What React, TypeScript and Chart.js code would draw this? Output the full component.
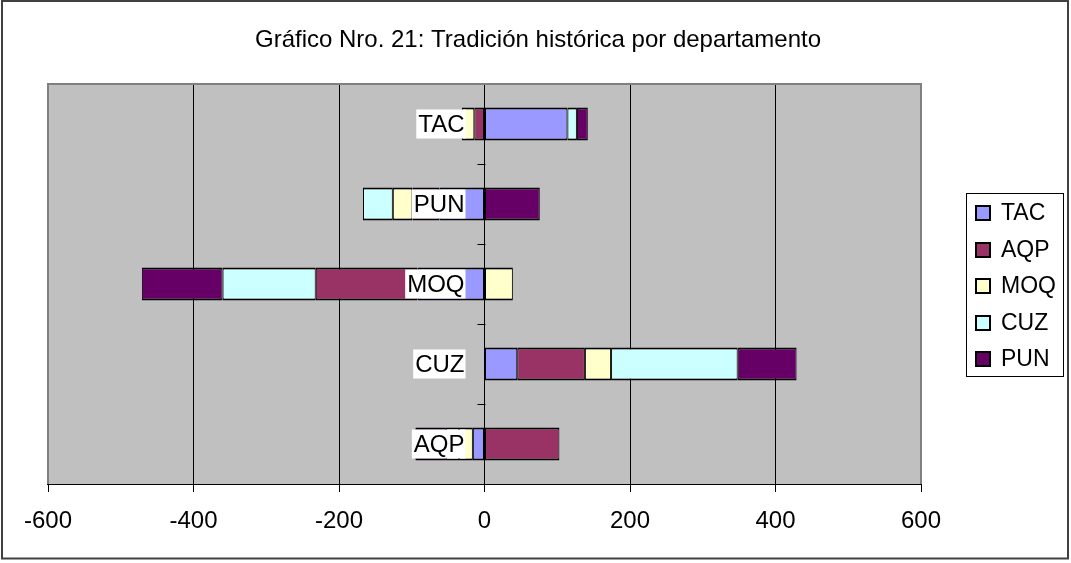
import React, { useEffect, useRef } from 'react';
import { Chart, registerables } from 'chart.js';

Chart.register(...registerables);

const TITLE = 'Gráfico Nro. 21: Tradición histórica por departamento';
const categories = ['TAC', 'PUN', 'MOQ', 'CUZ', 'AQP'];
const seriesNames = ['TAC', 'AQP', 'MOQ', 'CUZ', 'PUN'];
const tacValues = [114, -62, -92, 45, -16];
const aqpValues = [-14, -37, -140, 93, 103];
const moqValues = [-17, -27, 39, 36, -19];
const cuzValues = [13, -41, -128, 174, -18];
const punValues = [15, 76, -111, 81, -42];
const xTickValues = [-600, -400, -200, 0, 200, 400, 600];
const seriesColors = ['#9999FF', '#993366', '#FFFFCC', '#CCFFFF', '#660066'];

const FONT = '"Liberation Sans", Arial, Helvetica, sans-serif';
const W = 1071;
const H = 563;

const decorPlugin = {
  id: 'decor',
  beforeDraw(chart: any) {
    const { ctx, chartArea: a } = chart;
    ctx.save();
    ctx.fillStyle = '#ffffff';
    ctx.fillRect(0, 0, chart.width, chart.height);
    ctx.fillStyle = '#C0C0C0';
    ctx.fillRect(a.left, a.top, a.right - a.left, a.bottom - a.top);
    ctx.restore();
  },
  beforeDatasetsDraw(chart: any) {
    const { ctx, chartArea: a } = chart;
    ctx.save();
    ctx.strokeStyle = '#808080';
    ctx.lineWidth = 2;
    ctx.beginPath();
    ctx.moveTo(a.left, a.bottom);
    ctx.lineTo(a.left, a.top);
    ctx.lineTo(a.right, a.top);
    ctx.lineTo(a.right, a.bottom);
    ctx.stroke();
    ctx.strokeStyle = '#000000';
    ctx.lineWidth = 1;
    ctx.beginPath();
    ctx.moveTo(a.left - 1, Math.round(a.bottom) + 0.5);
    ctx.lineTo(a.right + 1, Math.round(a.bottom) + 0.5);
    ctx.stroke();
    ctx.restore();
  },
  afterDatasetsDraw(chart: any) {
    const { ctx, chartArea: a, scales } = chart;
    const x0 = Math.round(scales.x.getPixelForValue(0)) + 0.5;
    ctx.save();
    // category boundary ticks on the vertical axis
    ctx.strokeStyle = '#000000';
    ctx.lineWidth = 1;
    const n = categories.length;
    for (let i = 1; i < n; i++) {
      const y = Math.round(a.top + (i * (a.bottom - a.top)) / n) + 0.5;
      ctx.beginPath();
      ctx.moveTo(x0 - 8, y);
      ctx.lineTo(x0, y);
      ctx.stroke();
    }
    // category labels with white backdrop
    ctx.font = `24px ${FONT}`;
    ctx.textAlign = 'right';
    ctx.textBaseline = 'middle';
    const xr = scales.x.getPixelForValue(0) - 20;
    categories.forEach((c, i) => {
      const y = scales.y.getPixelForValue(i);
      const w = ctx.measureText(c).width;
      ctx.fillStyle = '#ffffff';
      ctx.fillRect(xr - w - 2, y - 14.5, w + 3, 29);
      ctx.fillStyle = '#000000';
      ctx.fillText(c, xr, y + 1);
    });
    ctx.restore();
  },
  afterDraw(chart: any) {
    const { ctx } = chart;
    ctx.save();
    // title
    ctx.fillStyle = '#000000';
    ctx.font = `24px ${FONT}`;
    ctx.textAlign = 'center';
    ctx.textBaseline = 'middle';
    ctx.fillText(TITLE, 538, 40);
    // legend
    const lx = 966, ly = 193, lw = 97, lh = 183;
    ctx.fillStyle = '#ffffff';
    ctx.fillRect(lx, ly, lw, lh);
    ctx.strokeStyle = '#000000';
    ctx.lineWidth = 1;
    ctx.strokeRect(lx + 0.5, ly + 0.5, lw, lh);
    chart.data.datasets.forEach((ds: any, i: number) => {
      const cy = 213 + i * 36.5;
      ctx.fillStyle = ds.backgroundColor;
      ctx.fillRect(976, Math.round(cy - 7), 14, 14);
      ctx.strokeStyle = '#000000';
      ctx.lineWidth = 2;
      ctx.strokeRect(976, Math.round(cy - 7), 14, 14);
      ctx.fillStyle = '#000000';
      ctx.font = `23px ${FONT}`;
      ctx.textAlign = 'left';
      ctx.textBaseline = 'middle';
      ctx.fillText(ds.label, 1001, cy + 1);
    });
    // outer border
    ctx.strokeStyle = '#404040';
    ctx.lineWidth = 2;
    ctx.strokeRect(2, 1, 1066, 557.5);
    ctx.restore();
  },
};

export default function App() {
  const ref = useRef<HTMLCanvasElement | null>(null);
  useEffect(() => {
    if (!ref.current) return;
    const seriesValues = [tacValues, aqpValues, moqValues, cuzValues, punValues];
    const chart = new Chart(ref.current, {
      type: 'bar',
      data: {
        labels: categories,
        datasets: seriesNames.map((name, i) => ({
          label: name,
          data: seriesValues[i],
          backgroundColor: seriesColors[i],
          borderColor: '#000000',
          borderWidth: { top: 2, bottom: 2, left: 1, right: 1 },
          borderSkipped: false,
          categoryPercentage: 1,
          barPercentage: 0.41,
        })),
      },
      options: {
        indexAxis: 'y',
        animation: false,
        responsive: false,
        layout: { padding: { left: 48, right: 150, top: 84, bottom: 9 } },
        plugins: {
          legend: { display: false },
          title: { display: false },
          tooltip: { enabled: false },
        },
        scales: {
          x: {
            type: 'linear',
            min: xTickValues[0],
            max: xTickValues[xTickValues.length - 1],
            stacked: true,
            afterBuildTicks: (scale: any) => {
              scale.ticks = xTickValues.map((v) => ({ value: v }));
            },
            afterFit: (scale: any) => {
              scale.height = 70;
            },
            grid: {
              color: (c: any) =>
                c.tick && (c.tick.value === xTickValues[0] || c.tick.value === xTickValues[xTickValues.length - 1])
                  ? 'rgba(0,0,0,0)'
                  : '#000000',
              tickColor: '#000000',
              tickLength: 8,
              lineWidth: 1,
            },
            border: { display: true, color: '#000000', width: 1 },
            ticks: {
              font: { family: FONT, size: 24 },
              color: '#000000',
              padding: 15,
              maxRotation: 0,
              autoSkip: false,
            },
          },
          y: {
            type: 'category',
            stacked: true,
            display: false,
            grid: { display: false },
          },
        },
      },
      plugins: [decorPlugin],
    } as any);
    return () => chart.destroy();
  }, []);
  return (
    <div style={{ position: 'absolute', left: 0, top: 0, width: W, height: H }}>
      <canvas ref={ref} width={W} height={H} style={{ display: 'block', width: W, height: H }} />
    </div>
  );
}
